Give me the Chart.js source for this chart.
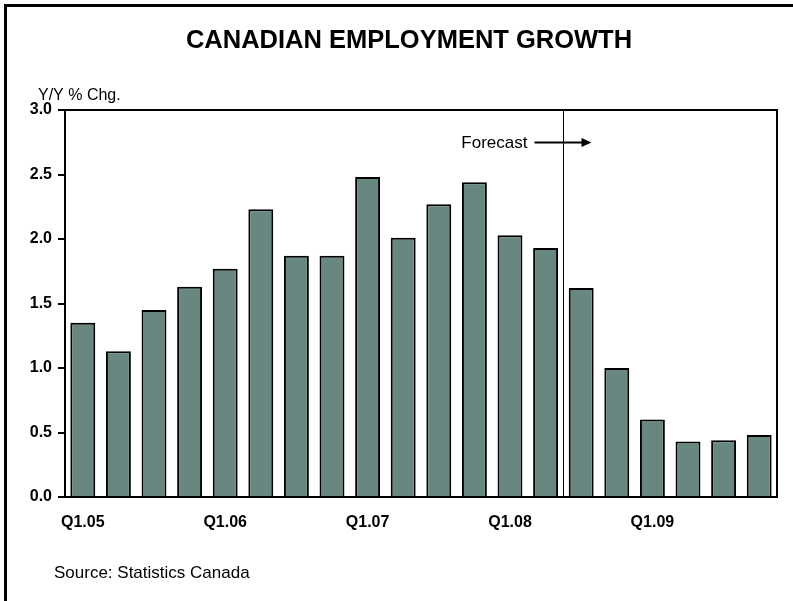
<!DOCTYPE html>
<html>
<head>
<meta charset="utf-8">
<script src="https://cdn.jsdelivr.net/npm/chart.js@4.4.1/dist/chart.umd.min.js"></script>
<style>
    html, body { margin: 0; padding: 0; background: #fff; }
    #wrap { width: 793px; height: 601px; position: relative; }
</style>
</head>
<body>
<div id="wrap"><canvas id="chartCanvas"></canvas></div>
<script>
const quarters = [
    'Q1.05', 'Q2.05', 'Q3.05', 'Q4.05',
    'Q1.06', 'Q2.06', 'Q3.06', 'Q4.06',
    'Q1.07', 'Q2.07', 'Q3.07', 'Q4.07',
    'Q1.08', 'Q2.08', 'Q3.08', 'Q4.08',
    'Q1.09', 'Q2.09', 'Q3.09', 'Q4.09'
];
const employmentGrowth = [
    1.35, 1.13, 1.45, 1.63,
    1.77, 2.23, 1.87, 1.87,
    2.48, 2.01, 2.27, 2.44,
    2.03, 1.93, 1.62, 1.00,
    0.60, 0.43, 0.44, 0.48
];
const yTicks = [0, 0.5, 1.0, 1.5, 2.0, 2.5, 3.0];
const forecastStartIndex = 14; // first forecast quarter (Q3.08)

const titleText = 'CANADIAN EMPLOYMENT GROWTH';
const unitText = 'Y/Y % Chg.';
const sourceText = 'Source: Statistics Canada';
const forecastText = 'Forecast';

// frame, title, box round the plot, forecast marker
const decorPlugin = {
    id: 'decor',
    afterDraw(chart) {
        const ctx = chart.ctx;
        const area = chart.chartArea;
        const x = chart.scales.x;
        ctx.save();

        // outer frame (left + top only, the rest is cropped)
        ctx.strokeStyle = '#000';
        ctx.lineWidth = 3;
        ctx.beginPath();
        ctx.moveTo(5.5, chart.height);
        ctx.lineTo(5.5, 5.5);
        ctx.lineTo(chart.width, 5.5);
        ctx.stroke();

        // plot box
        ctx.lineWidth = 2;
        ctx.strokeRect(area.left, area.top, area.right - area.left, area.bottom - area.top);

        ctx.fillStyle = '#000';
        ctx.font = 'bold 25.5px Arial, "Liberation Sans", sans-serif';
        ctx.textAlign = 'center';
        ctx.textBaseline = 'middle';
        ctx.fillText(titleText, 409, 41);

        ctx.font = '16px Arial, "Liberation Sans", sans-serif';
        ctx.textAlign = 'left';
        ctx.fillText(unitText, 38, 96);

        ctx.font = '17px Arial, "Liberation Sans", sans-serif';
        ctx.fillText(sourceText, 54, 573);

        // forecast divider
        const fx = Math.round((x.getPixelForValue(forecastStartIndex - 1) + x.getPixelForValue(forecastStartIndex)) / 2) + 0.5;
        ctx.lineWidth = 1;
        ctx.beginPath();
        ctx.moveTo(fx, area.top);
        ctx.lineTo(fx, area.bottom);
        ctx.stroke();

        ctx.textAlign = 'right';
        ctx.fillText(forecastText, fx - 36, 143);

        ctx.lineWidth = 2;
        ctx.beginPath();
        ctx.moveTo(fx - 29, 142.5);
        ctx.lineTo(fx + 20, 142.5);
        ctx.stroke();
        ctx.beginPath();
        ctx.moveTo(fx + 28, 142.5);
        ctx.lineTo(fx + 18, 138);
        ctx.lineTo(fx + 18, 147);
        ctx.closePath();
        ctx.fill();

        ctx.restore();
    }
};

const ctx = document.getElementById('chartCanvas').getContext('2d');
new Chart(ctx, {
    type: 'bar',
    data: {
        labels: quarters,
        datasets: [{
            label: 'Y/Y % Chg.',
            data: employmentGrowth,
            backgroundColor: '#678780',
            borderColor: '#000',
            borderWidth: 2,
            barPercentage: 0.7,
            categoryPercentage: 1.0
        }]
    },
    options: {
        responsive: true,
        maintainAspectRatio: false,
        animation: false,
        layout: { padding: { top: 110, right: 16, bottom: 0, left: 0 } },
        plugins: {
            legend: { display: false },
            title: { display: false },
            tooltip: { enabled: false }
        },
        scales: {
            x: {
                grid: { display: false },
                border: { display: true, color: '#000', width: 2 },
                afterFit: (scale) => { scale.height = 104; },
                ticks: {
                    autoSkip: false,
                    maxRotation: 0,
                    padding: 8,
                    color: '#000',
                    font: { family: 'Arial, "Liberation Sans", sans-serif', size: 16, weight: 'bold' },
                    callback: function(value, index) {
                        return index % 4 === 0 ? quarters[index] : '';
                    }
                }
            },
            y: {
                min: 0,
                max: 3,
                afterFit: (scale) => { scale.width = 65; },
                afterBuildTicks: (scale) => { scale.ticks = yTicks.map(v => ({ value: v })); },
                grid: { drawOnChartArea: false, drawTicks: true, tickLength: 7, color: '#000', lineWidth: 2 },
                border: { display: true, color: '#000', width: 2 },
                ticks: {
                    padding: 6,
                    color: '#000',
                    font: { family: 'Arial, "Liberation Sans", sans-serif', size: 16, weight: 'bold' },
                    callback: (value) => value.toFixed(1)
                }
            }
        }
    },
    plugins: [decorPlugin]
});
</script>
</body>
</html>
